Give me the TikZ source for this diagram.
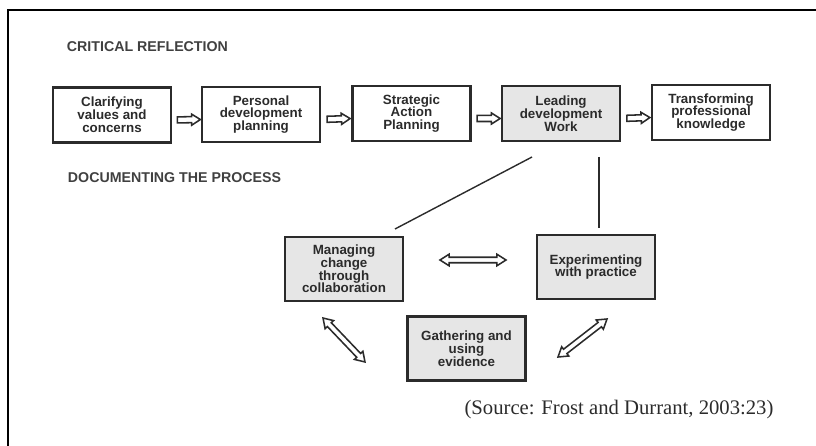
\documentclass[tikz,border=0pt]{standalone}
\usepackage{fontspec}
\setmainfont{Liberation Serif}
\setsansfont{Liberation Sans}
\usetikzlibrary{calc, shapes.arrows}
\definecolor{ink}{HTML}{2B2B2B}
\definecolor{shade}{HTML}{E6E6E6}
\tikzset{%
    box/.style={rectangle, draw=ink, line width=1.6pt, minimum width=2.95cm, minimum height=1.375cm, inner sep=1pt, align=center, text=ink, font=\sffamily\bfseries\fontsize{9.5}{9.1}\selectfont},
    boxf/.style={box, fill=shade},
    low/.style={box, fill=shade, minimum height=1.6cm},
    hdr/.style={anchor=west, text=ink!90, font=\sffamily\bfseries\fontsize{10.1}{12}\selectfont},
    lin/.style={line width=1pt, draw=ink},
    sarr/.style={single arrow, draw=ink, line width=1.1pt, sloped, inner sep=1.6pt, minimum height=0.575cm, single arrow head extend=1.8pt, single arrow tip angle=65},
    darr/.style={double arrow, draw=ink, line width=1.1pt, sloped, inner sep=1.4pt, double arrow head extend=2.2pt, double arrow tip angle=65},
}
\begin{document}
\begin{tikzpicture}[x=0.025cm, y=-0.025cm]
    \useasboundingbox (0,0) rectangle (816,446);
    \draw [line width=2pt] (8,446) |- (816,10);
    % headings
    \node [hdr] (crit) at (62,47) {CRITICAL REFLECTION};
    \node [hdr] (docu) at (63,178) {DOCUMENTING THE PROCESS};
    % top row
    \node [box] (clar) at (112,115) {Clarifying\\values and\\concerns};
    \node [box] (pers) at (261,114.5) {Personal\\development\\planning};
    \node [box] (strat) at (411.5,113.5) {Strategic\\Action\\Planning};
    \node [boxf] (lead) at (561,113.5) {Leading\\development\\Work};
    \node [box] (trans) at (711,112.5) {Transforming\\professional\\knowledge};
    \path ($(clar.east)+(0,5)$) -- node[sarr]{} ($(pers.west)+(0,5)$);
    \path ($(pers.east)+(0,5)$) -- node[sarr]{} ($(strat.west)+(0,5)$);
    \path ($(strat.east)+(0,5)$) -- node[sarr]{} ($(lead.west)+(0,5)$);
    \path ($(lead.east)+(0,5)$) -- node[sarr]{} ($(trans.west)+(0,5)$);
    % lower cycle
    \node [low] (manag) at (344,269) {Managing\\change\\through\\collaboration};
    \node [low] (exper) at (596,267) {Experimenting\\with practice};
    \node [low] (gath) at (466.5,348.5) {Gathering and\\using\\evidence};
    \coordinate (l1) at (532,157);
    \coordinate (l2) at (395,229);
    \coordinate (l3) at (599,157);
    \coordinate (l4) at (599,228);
    \draw [lin] (l1) -- (l2);
    \draw [lin] (l3) -- (l4);
    \coordinate (h1) at (440,260);
    \coordinate (h2) at (506,260);
    \coordinate (d1) at (323,318);
    \coordinate (d2) at (365,362);
    \coordinate (d3) at (607,319);
    \coordinate (d4) at (558,357);
    \path (h1) -- node[darr, minimum height=1.65cm]{} (h2);
    \path (d1) -- node[darr, minimum height=1.52cm]{} (d2);
    \path (d3) -- node[darr, minimum height=1.55cm]{} (d4);
    \node [text=ink, font=\fontsize{14.7}{16}\selectfont] (src) at (619,410) {(Source: Frost and Durrant, 2003:23)};
\end{tikzpicture}
\end{document}
